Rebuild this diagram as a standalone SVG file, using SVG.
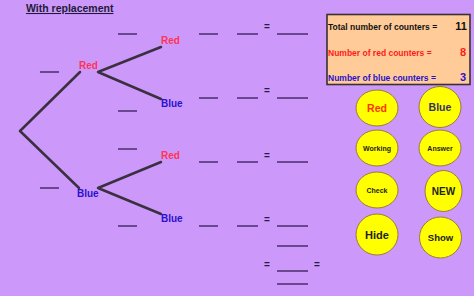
<svg xmlns="http://www.w3.org/2000/svg" width="474" height="296" viewBox="0 0 474 296">
<style>
text{font-family:"Liberation Sans",Arial,sans-serif;font-weight:bold}
.branch{stroke:#3a3040;stroke-width:2.5;fill:none;stroke-linecap:round}
.blank{stroke:#4a2d6e;stroke-width:1.6}
.eq{font-size:10px;fill:#2a1a4a}
.red{fill:#ff3355;font-size:10px}
.blue{fill:#2a10cc;font-size:10px}
.btn ellipse{fill:#ffff00;stroke:#9a7a3a;stroke-width:1}
.btn text{text-anchor:middle;fill:#222222}
.info{font-size:8.5px}
</style>
<rect width="474" height="296" fill="#cc99fb"/>
<text x="26" y="12" font-size="10.5" fill="#1f1a3a" text-decoration="underline">With replacement</text>

<g id="connectors">
<path class="branch" d="M20,131 L80,72 M98,72 L161,47 M98,72 L161,99 M20,131 L79,188 M98,188 L161,162 M98,188 L161,214"/>
</g>

<g id="node-red1"><text class="red" x="79" y="69">Red</text></g>
<g id="node-blue1"><text class="blue" x="77" y="197">Blue</text></g>
<g id="node-rr"><text class="red" x="161" y="44">Red</text></g>
<g id="node-rb"><text class="blue" x="161" y="107">Blue</text></g>
<g id="node-br"><text class="red" x="161" y="159">Red</text></g>
<g id="node-bb"><text class="blue" x="161" y="222">Blue</text></g>

<g id="blanks">
<path class="blank" d="M40,72 H59 M40,188 H59 M118,34 H137 M118,111 H137 M118,149 H137 M118,226 H137
M199,34 H218 M237,34 H258 M277,34 H308
M199,98 H218 M237,98 H258 M277,98 H308
M199,162 H218 M237,162 H258 M277,162 H308
M199,226 H218 M237,226 H258 M277,226 H308
M277,246 H308 M277,271 H308 M277,284 H308"/>
<text class="eq" x="264" y="30">=</text>
<text class="eq" x="264" y="94">=</text>
<text class="eq" x="264" y="159">=</text>
<text class="eq" x="264" y="223">=</text>
<text class="eq" x="264" y="268">=</text>
<text class="eq" x="314" y="268">=</text>
</g>

<g id="info">
<rect x="327" y="14.5" width="143" height="70" fill="#ffcc99" stroke="#3a3030" stroke-width="1.6"/>
<text class="info" x="328" y="30" fill="#111111">Total number of counters =</text>
<text x="467" y="30" font-size="11" fill="#111111" text-anchor="end">11</text>
<text class="info" x="328" y="56" fill="#ff1a1a">Number of red counters =</text>
<text x="466" y="56" font-size="11" fill="#ff1a1a" text-anchor="end">8</text>
<text class="info" x="328" y="81" fill="#2a10cc">Number of blue counters =</text>
<text x="466" y="81" font-size="11" fill="#2a10cc" text-anchor="end">3</text>
</g>

<g id="btn-red" class="btn"><ellipse cx="377" cy="108" rx="21" ry="18"/><text x="377" y="112" font-size="10.5" style="fill:#ff3300">Red</text></g>
<g id="btn-blue" class="btn"><ellipse cx="440" cy="107" rx="21" ry="20.5"/><text x="440" y="111" font-size="10.5" style="fill:#333366">Blue</text></g>
<g id="btn-working" class="btn"><ellipse cx="377" cy="148" rx="21" ry="18"/><text x="377" y="150.5" font-size="7">Working</text></g>
<g id="btn-answer" class="btn"><ellipse cx="440" cy="148" rx="21" ry="18"/><text x="440" y="150.5" font-size="7">Answer</text></g>
<g id="btn-check" class="btn"><ellipse cx="377" cy="190" rx="21" ry="18"/><text x="377" y="192.5" font-size="7">Check</text></g>
<g id="btn-new" class="btn"><ellipse cx="443.5" cy="191" rx="18.5" ry="20.5"/><text x="443.5" y="194.5" font-size="10">NEW</text></g>
<g id="btn-hide" class="btn"><ellipse cx="377" cy="234.5" rx="21" ry="20.5"/><text x="377" y="238.5" font-size="11">Hide</text></g>
<g id="btn-show" class="btn"><ellipse cx="440.5" cy="237.5" rx="21" ry="20.5"/><text x="440.5" y="241" font-size="9.5">Show</text></g>
</svg>
